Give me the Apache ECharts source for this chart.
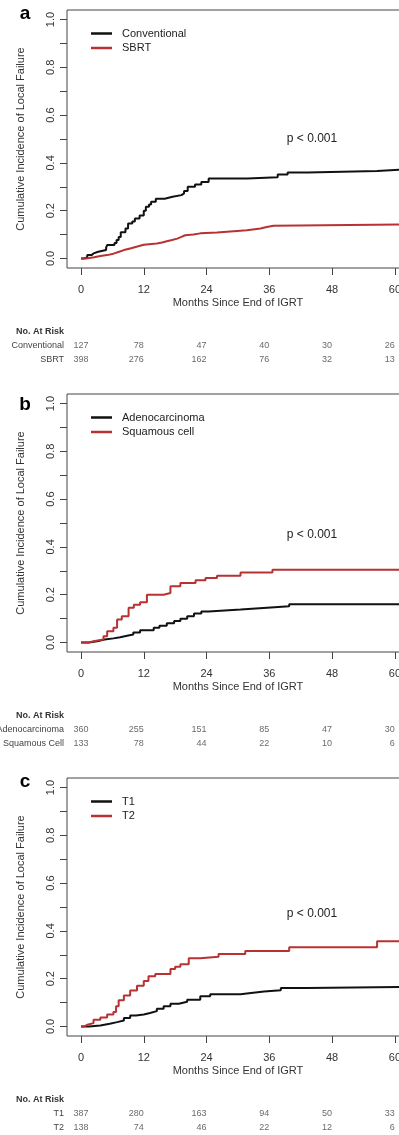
<!DOCTYPE html>
<html lang="en">
<head>
<meta charset="UTF-8">
<title>Cumulative Incidence of Local Failure</title>
<script src="https://cdn.jsdelivr.net/npm/echarts@6/dist/echarts.min.js"></script>
<style>
  html, body { margin: 0; padding: 0; background: #fff; }
  #main { width: 399px; height: 1135px; }
</style>
</head>
<body>
<div id="main"></div>
<script>
// axis ticks
var xTicks = [0, 12, 24, 36, 48, 60];
var yTicks = [0, 0.1, 0.2, 0.3, 0.4, 0.5, 0.6, 0.7, 0.8, 0.9, 1.0];
var yLabels = [0, 0.2, 0.4, 0.6, 0.8, 1.0];

// a: fractionation  [month, cumulative incidence]
var conventional = [[0,0],[0.5,0.004],[1.2,0.014],[2.0,0.021],[2.4,0.028],[3.3,0.035],[4.8,0.045],[5.0,0.056],[6.4,0.065],[6.8,0.077],[7.2,0.09],[7.6,0.11],[8.5,0.125],[9.0,0.146],[9.8,0.155],[10.3,0.167],[11.2,0.18],[12.0,0.2],[12.4,0.216],[13.0,0.226],[13.4,0.237],[14.3,0.25],[16.0,0.258],[17.5,0.265],[19.2,0.272],[19.7,0.282],[20.4,0.3],[21.8,0.31],[23.0,0.32],[24.4,0.335],[31.8,0.34],[37.6,0.351],[39.5,0.36],[43.3,0.366],[56.6,0.374],[62.7,0.374]];
var sbrt = [[0,0],[1.0,0.005],[2.5,0.01],[3.7,0.014],[5.0,0.02],[6.2,0.028],[7.3,0.035],[8.2,0.042],[9.4,0.049],[10.6,0.057],[12.0,0.063],[14.5,0.067],[15.5,0.072],[16.4,0.077],[17.4,0.083],[18.4,0.09],[19.2,0.097],[19.9,0.1],[21.5,0.105],[22.8,0.109],[26.0,0.114],[29.2,0.118],[31.7,0.125],[34.3,0.132],[35.5,0.137],[36.8,0.143],[62.7,0.143]];

// b: histology
var adeno = [[0,0],[1.5,0.005],[3.1,0.012],[4.5,0.017],[6.2,0.022],[7.5,0.028],[8.8,0.033],[10.0,0.042],[11.3,0.051],[13.9,0.061],[15.0,0.07],[16.4,0.08],[17.8,0.09],[19.0,0.099],[20.3,0.11],[21.6,0.121],[23.0,0.13],[24.4,0.138],[30.5,0.145],[35.6,0.151],[39.8,0.16],[62.7,0.16]];
var squamous = [[0,0],[1.5,0.005],[2.4,0.012],[4.3,0.026],[5.0,0.047],[6.2,0.061],[6.9,0.096],[7.8,0.11],[9.1,0.145],[10.1,0.158],[11.3,0.168],[12.6,0.2],[15.8,0.207],[17.1,0.235],[19.0,0.249],[21.9,0.26],[23.8,0.27],[26.0,0.279],[30.5,0.293],[36.6,0.304],[62.7,0.304]];

// c: T stage
var t1 = [[0,0],[1.5,0.004],[3.7,0.011],[5.5,0.018],[6.9,0.025],[8.2,0.035],[9.4,0.046],[10.5,0.05],[12.0,0.056],[13.2,0.064],[14.5,0.074],[15.8,0.085],[17.1,0.095],[18.7,0.103],[20.3,0.112],[22.8,0.126],[24.7,0.135],[30.5,0.14],[32.5,0.146],[35.0,0.152],[38.2,0.161],[43.2,0.165],[62.7,0.165]];
var t2 = [[0,0],[0.6,0.007],[1.2,0.014],[2.4,0.028],[3.7,0.037],[5.0,0.05],[6.2,0.06],[6.7,0.085],[7.2,0.11],[8.2,0.13],[9.4,0.15],[10.7,0.17],[12.0,0.19],[12.9,0.21],[14.2,0.22],[17.1,0.24],[18.0,0.25],[19.0,0.26],[20.6,0.285],[22.8,0.292],[26.3,0.303],[31.4,0.316],[39.8,0.331],[56.6,0.357],[62.7,0.357]];

// numbers at risk at 0, 12, 24, 36, 48, 60 months
var riskConventional = [127, 78, 47, 40, 30, 26];
var riskSbrt = [398, 276, 162, 76, 32, 13];
var riskAdeno = [360, 255, 151, 85, 47, 30];
var riskSquamous = [133, 78, 44, 22, 10, 6];
var riskT1 = [387, 280, 163, 94, 50, 33];
var riskT2 = [138, 74, 46, 22, 12, 6];

var FONT = 'Liberation Sans, Arial, sans-serif';
var colors = ['#111111', '#b83232'];

var panels = [
    { letter: 'a', names: ['Conventional', 'SBRT'], curves: [conventional, sbrt],
      rows: ['Conventional', 'SBRT'], risk: [riskConventional, riskSbrt], dy: 0, letterY: 14, pY: 139 },
    { letter: 'b', names: ['Adenocarcinoma', 'Squamous cell'], curves: [adeno, squamous],
      rows: ['Adenocarcinoma', 'Squamous Cell'], risk: [riskAdeno, riskSquamous], dy: 384, letterY: 405, pY: 535 },
    { letter: 'c', names: ['T1', 'T2'], curves: [t1, t2],
      rows: ['T1', 'T2'], risk: [riskT1, riskT2], dy: 768, letterY: 782, pY: 914 }
];

var option = {
    animation: false,
    backgroundColor: '#fff',
    textStyle: { fontFamily: FONT },
    grid: [], xAxis: [], yAxis: [], series: [], legend: [], graphic: { elements: [] }
};

panels.forEach(function (p, i) {
    var g = i * 2;
    // plot box
    option.grid.push({ left: 67, top: 10 + p.dy, width: 342, height: 258, show: true,
        borderColor: '#444', borderWidth: 1, backgroundColor: 'transparent', outerBoundsMode: 'none' });
    // risk table
    option.grid.push({ left: 67, top: 325 + p.dy, width: 342, height: 42, outerBoundsMode: 'none' });

    option.xAxis.push({
        type: 'value', gridIndex: g, min: -2.675, max: 62.7,
        name: 'Months Since End of IGRT', nameLocation: 'middle', nameGap: 29,
        nameTextStyle: { fontSize: 11, color: '#333', fontFamily: FONT },
        axisLine: { show: false, onZero: false },
        axisTick: { show: true, length: 7, inside: false, customValues: xTicks, lineStyle: { color: '#444' } },
        axisLabel: { customValues: xTicks, margin: 16, fontSize: 11, color: '#333', fontFamily: FONT },
        splitLine: { show: false }
    });
    option.xAxis.push({ type: 'value', gridIndex: g + 1, min: -2.675, max: 62.7, show: false });

    option.yAxis.push({
        type: 'value', gridIndex: g, min: -0.04, max: 1.04,
        name: 'Cumulative Incidence of Local Failure', nameLocation: 'middle', nameGap: 41,
        nameTextStyle: { fontSize: 11, color: '#333', fontFamily: FONT },
        axisLine: { show: false, onZero: false },
        axisTick: { show: true, length: 7, inside: false, customValues: yTicks, lineStyle: { color: '#444' } },
        axisLabel: { customValues: yLabels, rotate: 90, margin: 11, fontSize: 11, color: '#333', fontFamily: FONT,
            formatter: function (v) { return v.toFixed(1); } },
        splitLine: { show: false }
    });
    option.yAxis.push({
        type: 'category', gridIndex: g + 1, inverse: true,
        data: ['No. At Risk'].concat(p.rows),
        axisLine: { show: false }, axisTick: { show: false }, splitLine: { show: false },
        axisLabel: { margin: 3, fontSize: 9, color: '#444', fontFamily: FONT,
            formatter: function (v) { return v === 'No. At Risk' ? '{b|' + v + '}' : v; },
            rich: { b: { fontWeight: 'bold', fontSize: 9, color: '#333', fontFamily: FONT } } }
    });

    p.curves.forEach(function (c, k) {
        option.series.push({
            name: p.names[k], type: 'line', step: 'end', xAxisIndex: g, yAxisIndex: g,
            data: c, showSymbol: false, symbol: 'none', clip: true, color: colors[k],
            lineStyle: { width: 2, color: colors[k] }
        });
        option.series.push({
            type: 'scatter', xAxisIndex: g + 1, yAxisIndex: g + 1, symbolSize: 0, silent: true,
            data: p.risk[k].map(function (n, j) {
                return { value: [xTicks[j], p.rows[k], n], label: { align: j === 0 ? 'center' : 'right' } };
            }),
            label: { show: true, position: 'inside', fontSize: 9, color: '#444', fontFamily: FONT,
                formatter: function (d) { return d.value[2]; } }
        });
    });

    option.legend.push({
        data: p.names, orient: 'vertical', left: 91, top: 27 + p.dy, padding: 0,
        icon: 'rect', itemWidth: 21, itemHeight: 2.5, itemGap: 1.5,
        textStyle: { fontSize: 11, color: '#222', lineHeight: 13, fontFamily: FONT, padding: [0, 0, 0, 5] }
    });

    option.graphic.elements.push({ type: 'text', id: 'letter' + i, x: 25, y: p.letterY,
        style: { text: p.letter, font: 'bold 19px ' + FONT, fill: '#000', textAlign: 'center', textVerticalAlign: 'middle' } });
    option.graphic.elements.push({ type: 'text', id: 'p' + i, x: 312, y: p.pY,
        style: { text: 'p < 0.001', font: '12px ' + FONT, fill: '#222', textAlign: 'center', textVerticalAlign: 'middle' } });
});

var myChart = echarts.init(document.getElementById('main'));
myChart.setOption(option);
</script>
</body>
</html>
